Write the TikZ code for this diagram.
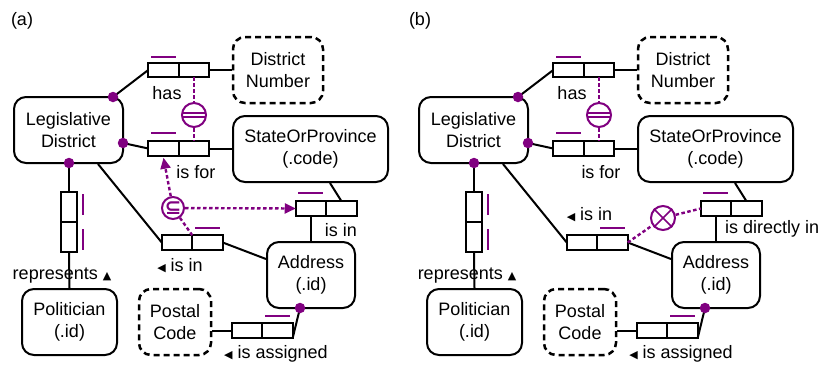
\documentclass[tikz,border=0pt]{standalone}
\usepackage{fontspec}
\setmainfont{Liberation Sans}
\newfontfamily\symfont{DejaVu Sans}
\usetikzlibrary{arrows.meta,calc}
\definecolor{ormpurple}{RGB}{128,0,128}
\newcommand\triL{{\symfont\fontsize{11}{11}\selectfont ◀}}
\newcommand\triU{{\symfont\fontsize{11}{11}\selectfont ▲}}
\tikzset{
  ent/.style={draw,line width=2pt,rounded corners=12pt,align=center,inner sep=0pt,minimum height=66pt},
  vent/.style={ent,dash pattern=on 6pt off 4pt,line width=2.5pt},
  cell/.style={draw,line width=1.8pt,minimum width=30.5pt,minimum height=14.5pt,inner sep=0pt,outer sep=0pt},
  vcell/.style={draw,line width=1.8pt,minimum width=16pt,minimum height=30pt,inner sep=0pt,outer sep=0pt},
  conn/.style={line width=2pt},
  ubar/.style={ormpurple,line width=2.2pt},
  dot/.style={circle,fill=ormpurple,minimum size=10.5pt,inner sep=0pt},
  consc/.style={circle,draw=ormpurple,line width=2pt,fill=white,inner sep=0pt},
  cdash/.style={ormpurple,line width=2.4pt,dash pattern=on 3.5pt off 2.5pt},
  lbl/.style={inner sep=0pt,anchor=base},
  ctip/.style={-{Triangle[length=11pt,width=10pt]}}
}
\newcommand\ormcommon[1]{%
  % entity and value types
  \node[ent,minimum width=109pt] (#1LD) at (68.5,130) {Legislative\\District};
  \node[vent,minimum width=90pt] (#1DN) at (278,70) {District\\Number};
  \node[ent,minimum width=155pt] (#1SOP) at (310.5,149) {StateOrProvince\\(.code)};
  \node[ent,minimum width=88pt] (#1Ad) at (311,275) {Address\\(.id)};
  \node[ent,minimum width=95pt] (#1Pol) at (69.5,322) {Politician\\(.id)};
  \node[vent,minimum width=72pt] (#1PC) at (175,322) {Postal\\Code};
  % role boxes
  \node[cell] (#1hasA) at (163.5,70) {};
  \node[cell] (#1hasB) at (194,70) {};
  \node[cell] (#1forA) at (163.5,148.5) {};
  \node[cell] (#1forB) at (194,148.5) {};
  \node[cell] (#1inA) at (177,242.5) {};
  \node[cell] (#1inB) at (207.5,242.5) {};
  \node[cell] (#1upA) at (311,208.5) {};
  \node[cell] (#1upB) at (341.5,208.5) {};
  \node[cell] (#1iasA) at (247,330.5) {};
  \node[cell] (#1iasB) at (277.5,330.5) {};
  \node[vcell] (#1repA) at (69,207) {};
  \node[vcell] (#1repB) at (69,237) {};
  % uniqueness bars
  \draw[ubar] (151,57) -- (176,57);
  \draw[ubar] (151,133) -- (176,133);
  \draw[ubar] (195,228) -- (220,228);
  \draw[ubar] (298,193) -- (323,193);
  \draw[ubar] (265,316) -- (290,316);
  \draw[ubar] (83,194) -- (83,215);
  \draw[ubar] (83,229) -- (83,250);
  % mandatory dots
  \coordinate (#1d1) at (113,97);
  \coordinate (#1d2) at (123,143);
  \coordinate (#1d3) at (69,163);
  \coordinate (#1d4) at (300,308);
  % connectors
  \draw[conn] (#1d1) -- (#1hasA.west);
  \draw[conn] (#1hasB.east) -- (#1DN.west);
  \draw[conn] (#1d2) -- (#1forA.west);
  \draw[conn] (#1forB.east) -- (#1SOP.west |- #1forB.east);
  \draw[conn] ($(#1LD.south)+(29.5,0)$) -- (#1inA.west);
  \draw[conn] (#1inB.east) -- ($(#1Ad.west)+(0,-16)$);
  \draw[conn] ($(#1SOP.south)+(19.5,0)$) -- (#1upB.north);
  \draw[conn] (#1upA.south) -- (#1Ad.north -| #1upA.south);
  \draw[conn] (#1d4) -- (#1iasB.south east);
  \draw[conn] (#1iasA.west) -- (#1PC.east |- #1iasA.west);
  \draw[conn] (#1d3) -- (#1repA.north);
  \draw[conn] (#1repB.south) -- (#1Pol.north);
  \node[dot] (#1D1) at (#1d1) {};
  \node[dot] (#1D2) at (#1d2) {};
  \node[dot] (#1D3) at (#1d3) {};
  \node[dot] (#1D4) at (#1d4) {};
  % equality constraint
  \node[consc,minimum size=24pt] (#1eq) at (194,115) {};
  \draw[cdash] (#1hasB.south) -- (#1eq.north);
  \draw[cdash] (#1eq.south) -- (#1forB.north);
  \draw[ormpurple,line width=1.6pt] ($(#1eq.center)+(-11.3,-1.8)$) -- ++(22.6,0);
  \draw[ormpurple,line width=1.6pt] ($(#1eq.center)+(-11.3,1.8)$) -- ++(22.6,0);
  % labels
  \node[lbl] (#1Lhas) at (167,99) {has};
  \node[lbl] (#1Lfor) at (196,178) {is for};
  \node[lbl] (#1Lrep) at (62,279) {represents \triU};
  \node[lbl] (#1Lias) at (276,358) {\triL\ is assigned};
}
\begin{document}
\begin{tikzpicture}[x=1pt,y=-1pt,font=\fontsize{18}{22}\selectfont]
\useasboundingbox (0,0) rectangle (825,365);
\node[lbl] (pa) at (22,25) {(a)};
\node[lbl] (pb) at (420,25) {(b)};
% panel (a)
\ormcommon{a}
\node[lbl] (aLup) at (341,236) {is in};
\node[lbl] (aLin) at (180,271) {\triL\ is in};
\node[consc,minimum size=22pt] (asub) at (173,208) {};
\node[text=ormpurple,inner sep=0pt] (asubt) at (asub.center) {\symfont\bfseries\fontsize{20}{20}\selectfont ⊆};
\draw[cdash,ctip] (asub) -- ([yshift=-2pt]aforA.south);
\draw[cdash,ctip] (asub) -- (aupA.west);
\draw[cdash] (asub) -- (ainA.north east);
% panel (b)
\begin{scope}[xshift=405pt]
\ormcommon{b}
\node[lbl,anchor=base west] (bLup) at (320,233) {is directly in};
\node[lbl] (bLin) at (184.5,220) {\triL\ is in};
\node[consc,minimum size=24pt] (bexc) at (258,218) {};
\draw[ormpurple,line width=1.6pt] (bexc.north west) -- (bexc.south east);
\draw[ormpurple,line width=1.6pt] (bexc.north east) -- (bexc.south west);
\draw[cdash] (binB.east) -- (bexc);
\draw[cdash] (bexc) -- (bupA.west);
\end{scope}
\end{tikzpicture}
\end{document}
